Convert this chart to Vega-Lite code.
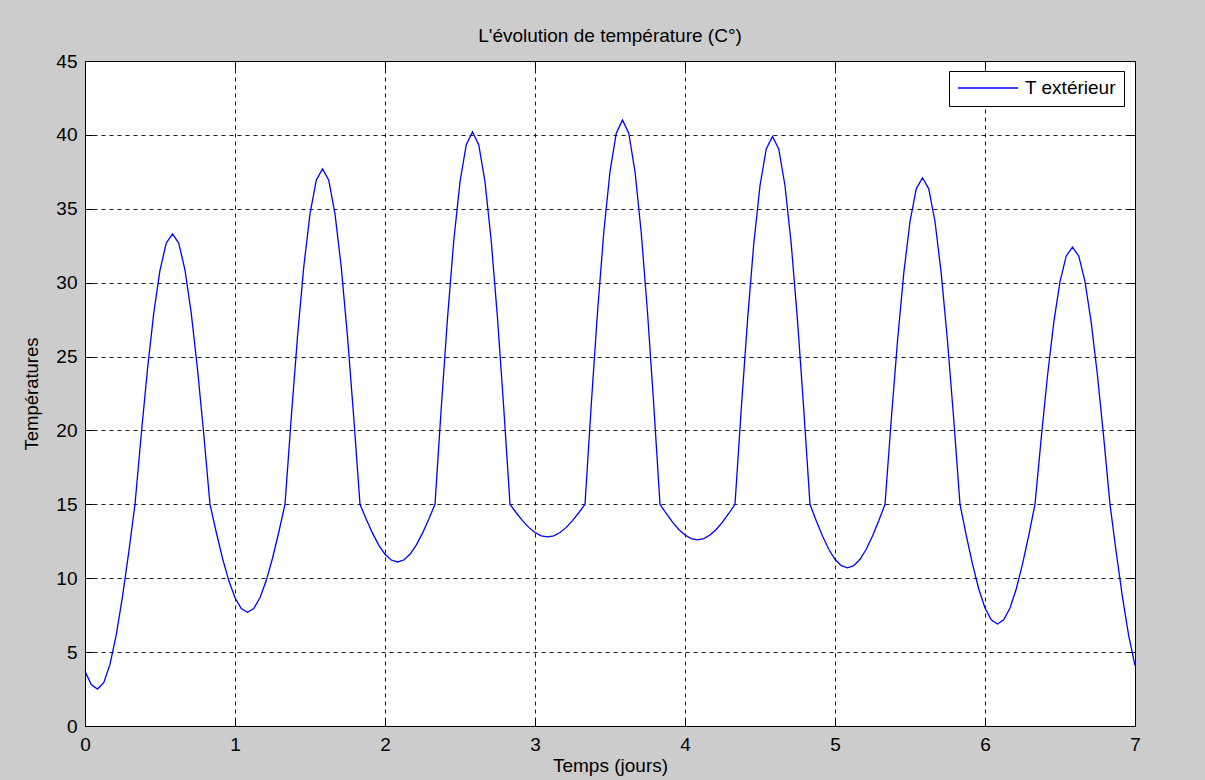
{
  "$schema": "https://vega.github.io/schema/vega-lite/v6.json",
  "width": 1050,
  "height": 665,
  "autosize": {"type": "none"},
  "padding": {"left": 85, "top": 61, "right": 70, "bottom": 54},
  "background": "#cccccc",
  "title": {"text": "L'évolution de température (C°)", "font": "Liberation Sans", "fontSize": 19, "fontWeight": "normal", "color": "#000000", "offset": 6},
  "config": {
    "view": {"stroke": "#000000", "strokeWidth": 1, "fill": "#ffffff"},
    "axis": {"labelFont": "Liberation Sans", "titleFont": "Liberation Sans", "labelColor": "#000000", "titleColor": "#000000", "titleFontWeight": "normal"}
  },
  "data": {"values": [
    {"t": 0, "T": 3.7}, {"t": 0.0417, "T": 2.8}, {"t": 0.0833, "T": 2.5}, {"t": 0.125, "T": 2.93}, {"t": 0.1667, "T": 4.17}, {"t": 0.2083, "T": 6.16}, {"t": 0.25, "T": 8.75}, {"t": 0.2917, "T": 11.76},
    {"t": 0.3333, "T": 15}, {"t": 0.375, "T": 19.74}, {"t": 0.4167, "T": 24.15}, {"t": 0.4583, "T": 27.94}, {"t": 0.5, "T": 30.85}, {"t": 0.5417, "T": 32.68}, {"t": 0.5833, "T": 33.3}, {"t": 0.625, "T": 32.68}, {"t": 0.6667, "T": 30.85}, {"t": 0.7083, "T": 27.94}, {"t": 0.75, "T": 24.15}, {"t": 0.7917, "T": 19.74},
    {"t": 0.8333, "T": 15}, {"t": 0.875, "T": 13.11}, {"t": 0.9167, "T": 11.35}, {"t": 0.9583, "T": 9.84},
    {"t": 1, "T": 8.68}, {"t": 1.0417, "T": 7.95}, {"t": 1.0833, "T": 7.7}, {"t": 1.125, "T": 7.95}, {"t": 1.1667, "T": 8.68}, {"t": 1.2083, "T": 9.84}, {"t": 1.25, "T": 11.35}, {"t": 1.2917, "T": 13.11},
    {"t": 1.3333, "T": 15}, {"t": 1.375, "T": 20.87}, {"t": 1.4167, "T": 26.35}, {"t": 1.4583, "T": 31.05}, {"t": 1.5, "T": 34.66}, {"t": 1.5417, "T": 36.93}, {"t": 1.5833, "T": 37.7}, {"t": 1.625, "T": 36.93}, {"t": 1.6667, "T": 34.66}, {"t": 1.7083, "T": 31.05}, {"t": 1.75, "T": 26.35}, {"t": 1.7917, "T": 20.87},
    {"t": 1.8333, "T": 15}, {"t": 1.875, "T": 13.99}, {"t": 1.9167, "T": 13.05}, {"t": 1.9583, "T": 12.24},
    {"t": 2, "T": 11.62}, {"t": 2.0417, "T": 11.23}, {"t": 2.0833, "T": 11.1}, {"t": 2.125, "T": 11.23}, {"t": 2.1667, "T": 11.62}, {"t": 2.2083, "T": 12.24}, {"t": 2.25, "T": 13.05}, {"t": 2.2917, "T": 13.99},
    {"t": 2.3333, "T": 15}, {"t": 2.375, "T": 21.52}, {"t": 2.4167, "T": 27.6}, {"t": 2.4583, "T": 32.82}, {"t": 2.5, "T": 36.82}, {"t": 2.5417, "T": 39.34}, {"t": 2.5833, "T": 40.2}, {"t": 2.625, "T": 39.34}, {"t": 2.6667, "T": 36.82}, {"t": 2.7083, "T": 32.82}, {"t": 2.75, "T": 27.6}, {"t": 2.7917, "T": 21.52},
    {"t": 2.8333, "T": 15}, {"t": 2.875, "T": 14.43}, {"t": 2.9167, "T": 13.9}, {"t": 2.9583, "T": 13.44},
    {"t": 3, "T": 13.09}, {"t": 3.0417, "T": 12.87}, {"t": 3.0833, "T": 12.8}, {"t": 3.125, "T": 12.87}, {"t": 3.1667, "T": 13.09}, {"t": 3.2083, "T": 13.44}, {"t": 3.25, "T": 13.9}, {"t": 3.2917, "T": 14.43},
    {"t": 3.3333, "T": 15}, {"t": 3.375, "T": 21.73}, {"t": 3.4167, "T": 28.0}, {"t": 3.4583, "T": 33.38}, {"t": 3.5, "T": 37.52}, {"t": 3.5417, "T": 40.11}, {"t": 3.5833, "T": 41.0}, {"t": 3.625, "T": 40.11}, {"t": 3.6667, "T": 37.52}, {"t": 3.7083, "T": 33.38}, {"t": 3.75, "T": 28.0}, {"t": 3.7917, "T": 21.73},
    {"t": 3.8333, "T": 15}, {"t": 3.875, "T": 14.38}, {"t": 3.9167, "T": 13.8}, {"t": 3.9583, "T": 13.3},
    {"t": 4, "T": 12.92}, {"t": 4.0417, "T": 12.68}, {"t": 4.0833, "T": 12.6}, {"t": 4.125, "T": 12.68}, {"t": 4.1667, "T": 12.92}, {"t": 4.2083, "T": 13.3}, {"t": 4.25, "T": 13.8}, {"t": 4.2917, "T": 14.38},
    {"t": 4.3333, "T": 15}, {"t": 4.375, "T": 21.44}, {"t": 4.4167, "T": 27.45}, {"t": 4.4583, "T": 32.61}, {"t": 4.5, "T": 36.56}, {"t": 4.5417, "T": 39.05}, {"t": 4.5833, "T": 39.9}, {"t": 4.625, "T": 39.05}, {"t": 4.6667, "T": 36.56}, {"t": 4.7083, "T": 32.61}, {"t": 4.75, "T": 27.45}, {"t": 4.7917, "T": 21.44},
    {"t": 4.8333, "T": 15}, {"t": 4.875, "T": 13.89}, {"t": 4.9167, "T": 12.85}, {"t": 4.9583, "T": 11.96},
    {"t": 5, "T": 11.28}, {"t": 5.0417, "T": 10.85}, {"t": 5.0833, "T": 10.7}, {"t": 5.125, "T": 10.85}, {"t": 5.1667, "T": 11.28}, {"t": 5.2083, "T": 11.96}, {"t": 5.25, "T": 12.85}, {"t": 5.2917, "T": 13.89},
    {"t": 5.3333, "T": 15}, {"t": 5.375, "T": 20.72}, {"t": 5.4167, "T": 26.05}, {"t": 5.4583, "T": 30.63}, {"t": 5.5, "T": 34.14}, {"t": 5.5417, "T": 36.35}, {"t": 5.5833, "T": 37.1}, {"t": 5.625, "T": 36.35}, {"t": 5.6667, "T": 34.14}, {"t": 5.7083, "T": 30.63}, {"t": 5.75, "T": 26.05}, {"t": 5.7917, "T": 20.72},
    {"t": 5.8333, "T": 15}, {"t": 5.875, "T": 12.9}, {"t": 5.9167, "T": 10.95}, {"t": 5.9583, "T": 9.27},
    {"t": 6, "T": 7.99}, {"t": 6.0417, "T": 7.18}, {"t": 6.0833, "T": 6.9}, {"t": 6.125, "T": 7.18}, {"t": 6.1667, "T": 7.99}, {"t": 6.2083, "T": 9.27}, {"t": 6.25, "T": 10.95}, {"t": 6.2917, "T": 12.9},
    {"t": 6.3333, "T": 15}, {"t": 6.375, "T": 19.5}, {"t": 6.4167, "T": 23.7}, {"t": 6.4583, "T": 27.3}, {"t": 6.5, "T": 30.07}, {"t": 6.5417, "T": 31.81}, {"t": 6.5833, "T": 32.4}, {"t": 6.625, "T": 31.81}, {"t": 6.6667, "T": 30.07}, {"t": 6.7083, "T": 27.3}, {"t": 6.75, "T": 23.7}, {"t": 6.7917, "T": 19.5},
    {"t": 6.8333, "T": 15}, {"t": 6.875, "T": 11.74}, {"t": 6.9167, "T": 8.7}, {"t": 6.9583, "T": 6.09}, {"t": 7, "T": 4.09}
  ]},
  "layer": [
    {
      "mark": {"type": "line", "strokeWidth": 1.3, "interpolate": "linear"},
      "encoding": {
        "x": {"field": "t", "type": "quantitative", "scale": {"domain": [0, 7], "nice": false, "zero": false},
          "axis": {"orient": "bottom", "values": [0, 1, 2, 3, 4, 5, 6, 7], "format": "d", "title": "Temps (jours)", "titleFontSize": 19, "titlePadding": 2,
            "labelFontSize": 19, "labelPadding": 17, "labelFlush": false, "ticks": true, "tickSize": -8, "tickColor": "#000000", "tickWidth": 1,
            "domain": true, "domainColor": "#000000", "domainWidth": 1,
            "grid": true, "gridColor": "#000000", "gridDash": [4, 4], "gridWidth": 1, "gridOpacity": 0.9}},
        "y": {"field": "T", "type": "quantitative", "scale": {"domain": [0, 45], "nice": false, "zero": false},
          "axis": {"orient": "left", "values": [0, 5, 10, 15, 20, 25, 30, 35, 40, 45], "format": "d", "title": "Températures", "titleFontSize": 18.5, "titlePadding": 14,
            "labelFontSize": 19, "labelPadding": 16, "labelFlush": false, "ticks": true, "tickSize": -8, "tickColor": "#000000", "tickWidth": 1,
            "domain": true, "domainColor": "#000000", "domainWidth": 1,
            "grid": true, "gridColor": "#000000", "gridDash": [4, 4], "gridWidth": 1, "gridOpacity": 0.9}},
        "color": {"datum": "T extérieur", "type": "nominal", "scale": {"range": ["#0000ff"]},
          "legend": {"title": null, "orient": "none", "legendX": 864, "legendY": 10, "strokeColor": "#000000", "fillColor": "#ffffff", "padding": 8, "clipHeight": 18,
            "symbolType": "stroke", "symbolSize": 3600, "symbolStrokeWidth": 1.3, "labelFont": "Liberation Sans", "labelFontSize": 19, "labelColor": "#000000", "labelOffset": 6}}
      }
    },
    {
      "mark": {"type": "line", "strokeOpacity": 0},
      "encoding": {
        "x": {"field": "t", "type": "quantitative", "scale": {"domain": [0, 7], "nice": false, "zero": false},
          "axis": {"orient": "top", "values": [0, 1, 2, 3, 4, 5, 6, 7], "labels": false, "title": null, "ticks": true, "tickSize": -8, "tickColor": "#000000", "domain": true, "domainColor": "#000000", "grid": false}},
        "y": {"field": "T", "type": "quantitative", "scale": {"domain": [0, 45], "nice": false, "zero": false},
          "axis": {"orient": "right", "values": [0, 5, 10, 15, 20, 25, 30, 35, 40, 45], "labels": false, "title": null, "ticks": true, "tickSize": -8, "tickColor": "#000000", "domain": true, "domainColor": "#000000", "grid": false}}
      }
    }
  ],
  "resolve": {"scale": {"x": "independent", "y": "independent"}, "axis": {"x": "independent", "y": "independent"}}
}
